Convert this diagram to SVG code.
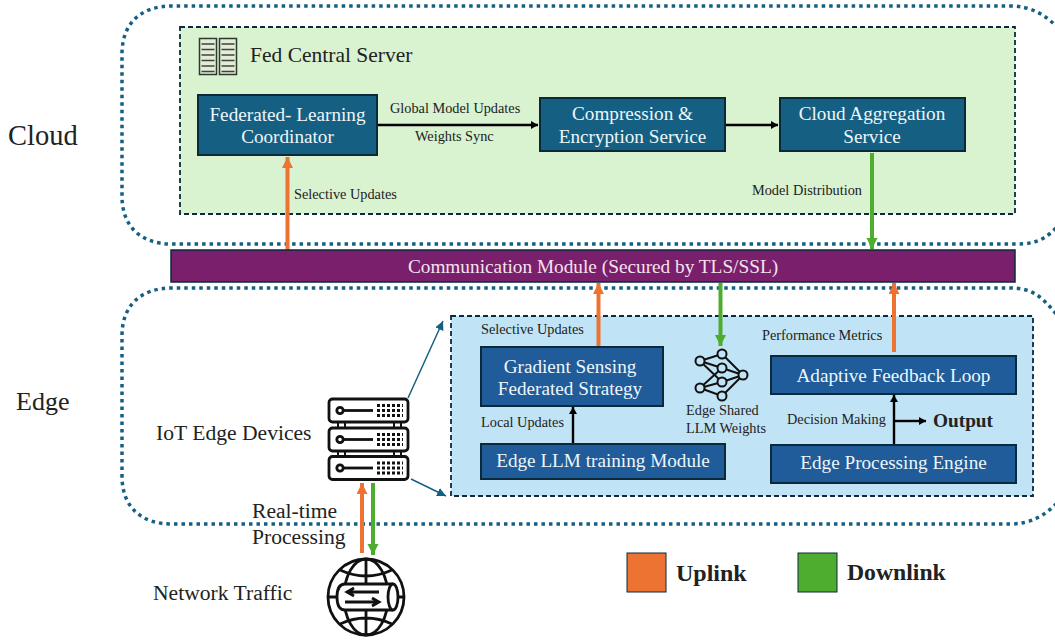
<svg xmlns="http://www.w3.org/2000/svg" width="1055" height="642" viewBox="0 0 1055 642">
<style>
text{font-family:"Liberation Serif","Times New Roman",serif;fill:#222}
.r{fill:none;stroke:#156082;stroke-width:3.5;stroke-dasharray:3.5 4}
.p{stroke:#0b2a3f;stroke-width:1.8;stroke-dasharray:5 3}
.n{fill:#156082;stroke:#0a2a3c;stroke-width:2}
.m{fill:#1f5c99;stroke:#0a2a3c;stroke-width:2}
.w{fill:#eef6fa;font-size:19.2px;text-anchor:middle}
.s{font-size:14.3px}
.l{font-size:21.6px}
.c{fill:none;stroke:#000;stroke-width:2.4}
.up{stroke:#ed7332;stroke-width:4;fill:none}
.dn{stroke:#4ead2f;stroke-width:4;fill:none}
.ic{fill:none;stroke:#111;stroke-width:2.8}
</style>
<defs>
<marker id="ab" markerUnits="userSpaceOnUse" markerWidth="8" markerHeight="8" refX="7" refY="4" orient="auto"><path d="M0 0L7 4L0 8z" fill="#000"/></marker>
<marker id="au" markerUnits="userSpaceOnUse" markerWidth="12" markerHeight="12" refX="11" refY="5.5" orient="auto"><path d="M0 0L11 5.500L0 11z" fill="#ed7332"/></marker>
<marker id="ad" markerUnits="userSpaceOnUse" markerWidth="12" markerHeight="12" refX="11" refY="5.5" orient="auto"><path d="M0 0L11 5.500L0 11z" fill="#4ead2f"/></marker>
<marker id="at" markerUnits="userSpaceOnUse" markerWidth="10" markerHeight="10" refX="9" refY="4.5" orient="auto"><path d="M0 0L9 4.500L0 9z" fill="#156082"/></marker>
<g id="srv"><rect x="0" y="0" width="79" height="23" rx="3.500" class="ic"/><circle cx="11" cy="11.500" r="3.200" class="ic"/><path d="M15 11.500H44" class="ic"/><path d="M48 6.500H74M48 11.500H74M48 16.500H74" fill="none" stroke="#111" stroke-width="3" stroke-dasharray="3 2"/></g>
<g id="rack"><rect width="17" height="36" fill="#e4ecd8" stroke="#2c3a2c" stroke-width="1.500"/><path d="M2 5.500H15M2 11H15M2 16.500H15M2 22H15M2 27.500H15M2 33H15" stroke="#3a463a" stroke-width="1.600"/></g>
</defs>
<g id="region-cloud"><path class="r" d="M1056 228C1040 244 1030 244 1010 244H172C140 244 122 226 122 196V54C122 24 140 6 172 6H1010C1030 6 1044 14 1056 26"/><text x="8" y="145" font-size="28.500">Cloud</text></g>
<g id="region-edge"><path class="r" d="M1056 314C1040 294 1030 288 1010 288H172C140 288 122 306 122 336V476C122 506 140 524 172 524H1010C1030 524 1044 516 1056 504"/><text x="16" y="410" font-size="26">Edge</text></g>
<g id="fed-central-server"><rect x="180" y="27" width="835" height="187" fill="#d9f2d0" class="p"/><use href="#rack" x="199.500" y="38.500"/><use href="#rack" x="219.500" y="38.500"/><text x="250" y="62" font-size="21.500">Fed Central Server</text></g>
<g id="edge-panel"><rect x="451" y="316" width="582" height="180" fill="#c0e4f5" class="p"/></g>
<g id="connectors">
<path class="c" d="M378 125H538" marker-end="url(#ab)"/>
<path class="c" d="M726 125H778" marker-end="url(#ab)"/>
<path class="c" d="M573 443V407" marker-end="url(#ab)"/>
<path class="c" d="M894 444V395" marker-end="url(#ab)"/>
<path class="c" d="M894 421H926" marker-end="url(#ab)"/>
<path class="up" d="M287.500 250V157" marker-end="url(#au)"/>
<path class="dn" d="M872 153V249" marker-end="url(#ad)"/>
<path class="up" d="M598.500 346V283" marker-end="url(#au)"/>
<path class="dn" d="M720.500 283V346" marker-end="url(#ad)"/>
<path class="up" d="M894 352V283" marker-end="url(#au)"/>
<path class="up" d="M362 553V483" marker-end="url(#au)"/>
<path class="dn" d="M373 483V555" marker-end="url(#ad)"/>
<path d="M408 398L443 321" stroke="#156082" stroke-width="1.500" fill="none" marker-end="url(#at)"/>
<path d="M411 479L446 496" stroke="#156082" stroke-width="1.500" fill="none" marker-end="url(#at)"/>
</g>
<g id="coordinator"><rect class="n" x="198" y="95" width="179" height="60"/><text class="w" x="287.500" y="121">Federated- Learning</text><text class="w" x="287.500" y="143">Coordinator</text></g>
<g id="compression"><rect class="n" x="540" y="98" width="185" height="53"/><text class="w" x="632.500" y="120">Compression &amp;</text><text class="w" x="632.500" y="143">Encryption Service</text></g>
<g id="cloud-aggregation"><rect class="n" x="780" y="98" width="185" height="53"/><text class="w" x="872" y="120">Cloud Aggregation</text><text class="w" x="872" y="143">Service</text></g>
<g id="communication-module"><rect x="171" y="250" width="844" height="32" fill="#7a1f6b" stroke="#0a2a3c" stroke-width="1.500"/><text x="593" y="273" font-size="19.300" text-anchor="middle" style="fill:#f3e3ef">Communication Module (Secured by TLS/SSL)</text></g>
<g id="gradient"><rect class="m" x="481" y="347" width="182" height="59"/><text class="w" x="570" y="373">Gradient Sensing</text><text class="w" x="570" y="395">Federated Strategy</text></g>
<g id="edge-llm"><rect class="m" x="481" y="444" width="244" height="35"/><text class="w" x="603" y="467">Edge LLM training Module</text></g>
<g id="feedback"><rect class="m" x="771" y="356" width="245" height="38"/><text class="w" x="893.500" y="382">Adaptive Feedback Loop</text></g>
<g id="processing"><rect class="m" x="771" y="445" width="245" height="38"/><text class="w" x="893.500" y="469">Edge Processing Engine</text></g>
<g id="edge-weights"><g stroke="#111" stroke-width="2" fill="none"><path d="M700 361L722 354M700 361L722 368M700 361L722 382M700 388L722 368M700 388L722 382M700 388L722 396M722 354L743 375M722 368L743 375M722 382L743 375M722 396L743 375"/></g><g fill="#c0e4f5" stroke="#111" stroke-width="2"><circle cx="700" cy="361" r="4.500"/><circle cx="700" cy="388" r="4.500"/><circle cx="722" cy="354" r="4.500"/><circle cx="722" cy="368" r="4.500"/><circle cx="722" cy="382" r="4.500"/><circle cx="722" cy="396" r="4.500"/><circle cx="743" cy="375" r="4.500"/></g><text class="s" x="686" y="415">Edge Shared</text><text class="s" x="686" y="433">LLM Weights</text></g>
<g id="iot-edge"><use href="#srv" x="329" y="399"/><use href="#srv" x="329" y="428"/><use href="#srv" x="329" y="456.500"/><path d="M338 422v6M345 422v6M394 422v6M401 422v6M338 451v5M345 451v5M394 451v5M401 451v5" stroke="#111" stroke-width="2" fill="none"/><text class="l" x="156" y="440">IoT Edge Devices</text></g>
<g id="network-traffic"><circle cx="366" cy="597" r="38" class="ic"/><ellipse cx="366" cy="597" rx="22" ry="38" class="ic"/><path d="M366 559V635M329 597H337M395 597H404M340 570Q366 582 392 570M340 624Q366 612 392 624" class="ic"/><path d="M393 584H345Q337 584 337 597Q337 610 345 610H393" fill="#fff" stroke="#111" stroke-width="2.800"/><ellipse cx="393" cy="597" rx="5" ry="13" fill="#fff" stroke="#111" stroke-width="2.800"/><path d="M379 592H348M354 588L347 592L354 596M345 602H378M372 598L379 602L372 606" class="ic" stroke-width="2"/><text class="l" x="153" y="600">Network Traffic</text></g>
<g id="labels">
<text class="s" x="390" y="113">Global Model Updates</text>
<text class="s" x="415" y="141">Weights Sync</text>
<text class="s" x="294" y="199">Selective Updates</text>
<text class="s" x="752" y="195">Model Distribution</text>
<text class="s" x="481" y="334">Selective Updates</text>
<text class="s" x="762" y="340">Performance  Metrics</text>
<text class="s" x="481" y="427">Local Updates</text>
<text class="s" x="787" y="424">Decision Making</text>
<text x="933" y="427" font-size="19.300" font-weight="bold">Output</text>
<text class="l" x="252" y="518">Real-time</text>
<text class="l" x="252" y="544">Processing</text>
</g>
<g id="legend"><rect x="627" y="553" width="39" height="39" fill="#ed7332" stroke="#0a2a3c" stroke-width="1"/><text x="676" y="581" font-size="24" font-weight="bold">Uplink</text><rect x="798" y="553" width="39" height="39" fill="#4ead2f" stroke="#0a2a3c" stroke-width="1"/><text x="847" y="580" font-size="23.700" font-weight="bold">Downlink</text></g>
</svg>
